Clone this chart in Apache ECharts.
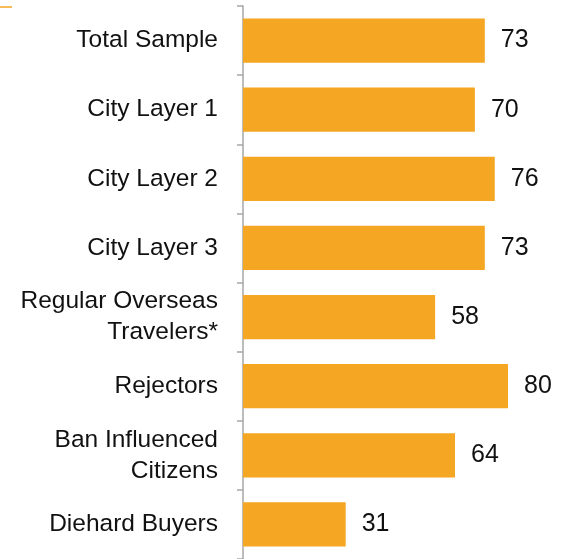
<!DOCTYPE html>
<html><head><meta charset="utf-8">
<script src="https://cdn.jsdelivr.net/npm/echarts@6/dist/echarts.min.js"></script>
<style>html,body{margin:0;padding:0;background:#fff}#c{width:570px;height:559px}</style>
</head><body><div id="c"></div>
<script>
const categories = ["Total Sample","City Layer 1","City Layer 2","City Layer 3","Regular Overseas\nTravelers*","Rejectors","Ban Influenced\nCitizens","Diehard Buyers"];
const values = [73,70,76,73,58,80,64,31];

const chart = echarts.init(document.getElementById('c'), null, {renderer:'canvas'});
chart.setOption({
  animation:false,
  grid:{left:243, right:9, top:6, bottom:0, containLabel:false},
  xAxis:{type:'value', min:0, max:96, show:false},
  yAxis:{type:'category', data:categories, inverse:true,
    axisLine:{show:true, lineStyle:{color:'#a6a6a6', width:1.5}},
    axisTick:{show:true, length:6, lineStyle:{color:'#a6a6a6', width:1.5}},
    axisLabel:{color:'#111', fontFamily:'Liberation Sans, Arial, sans-serif', fontSize:24.5, margin:25, lineHeight:31, align:'right'}
  },
  graphic:[{type:'line', shape:{x1:0,y1:7,x2:12,y2:7}, style:{stroke:'#F5A623', lineWidth:1.5}}],
  series:[{type:'bar', data:values, barCategoryGap:'36%',
    itemStyle:{color:'#F5A623'},
    label:{show:true, position:'right', distance:16, color:'#111', fontFamily:'Liberation Sans, Arial, sans-serif', fontSize:25}
  }]
});
</script></body></html>
